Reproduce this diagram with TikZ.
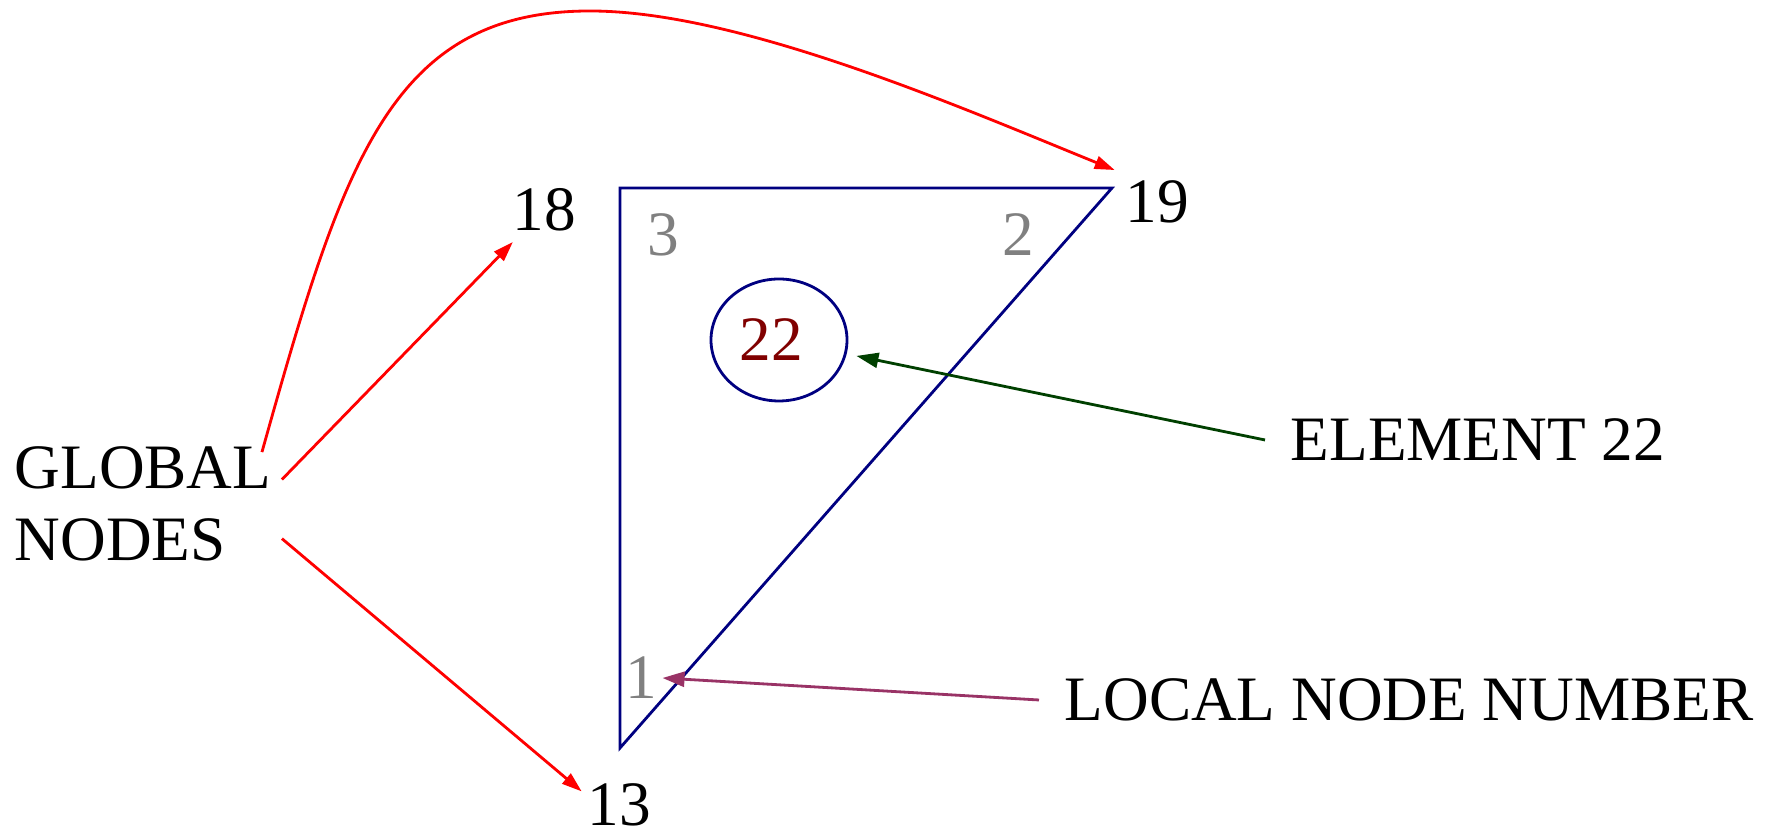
\documentclass[tikz,border=0pt]{standalone}
\usepackage{fontspec}
\setmainfont{Liberation Serif}
\definecolor{navyline}{RGB}{0,0,128}
\definecolor{maroonred}{RGB}{128,0,0}
\definecolor{darkgreen}{RGB}{0,64,0}
\definecolor{plum}{RGB}{153,51,102}
\usetikzlibrary{arrows.meta, shapes.geometric}
\begin{document}
\begin{tikzpicture}[
        txt/.style={font=\fontsize{18}{20.5}\selectfont, inner sep=1mm},
        lnum/.style={txt, text=gray, inner sep=0.5mm},
        tri/.style={draw=navyline, line width=0.8pt},
        redarrow/.style={-{Triangle[length=2mm,width=1.3mm]}, red, line width=0.8pt},
        callarrow/.style={-{Triangle[length=2.2mm,width=1.5mm]}, line width=0.8pt}
    ]
        \useasboundingbox (0,0) rectangle (17.78,8.35);
        % element 22
        \draw[tri] (6.20,6.47) -- (11.12,6.47) -- (6.20,0.87) -- cycle;
        \node[txt, ellipse, draw=navyline, line width=0.8pt, minimum width=1.36cm, minimum height=1.22cm, inner sep=0pt, text=maroonred] (CELL) at (7.79,4.95) {22\kern1.5mm};
        \node[lnum] (L3) at (6.63,6.00) {3};
        \node[lnum] (L2) at (10.18,6.00) {2};
        \node[lnum] (L1) at (6.41,1.57) {1};
        \node[txt] (N18) at (5.44,6.25) {18};
        \node[txt] (N19) at (11.57,6.33) {19};
        \node[txt, inner sep=0.5mm] (N13) at (6.19,0.30) {13};
        \node[txt, anchor=west, align=left] (GLOB) at (0.04,3.31) {GLOBAL\\NODES};
        \node[txt, anchor=west, inner xsep=2.5mm] (ELEM) at (12.65,3.95) {ELEMENT 22};
        \node[txt, anchor=west, inner xsep=2.5mm] (LOCAL) at (10.39,1.35) {LOCAL NODE NUMBER};
        % arrows
        \draw[redarrow] (GLOB.10) -- (N18);
        \draw[redarrow] (GLOB.-14) -- (N13.160);
        \draw[redarrow] ([xshift=-2mm,yshift=-1mm]GLOB.24) .. controls (3.43,6.72) and (3.90,8.24) .. (5.90,8.24) .. controls (7.40,8.24) and (9.62,7.27) .. (N19.north west);
        \draw[callarrow, darkgreen, shorten >=1mm] (ELEM.west) -- (CELL);
        \draw[callarrow, plum] (LOCAL.west) -- (L1.east);
    \end{tikzpicture}
\end{document}
